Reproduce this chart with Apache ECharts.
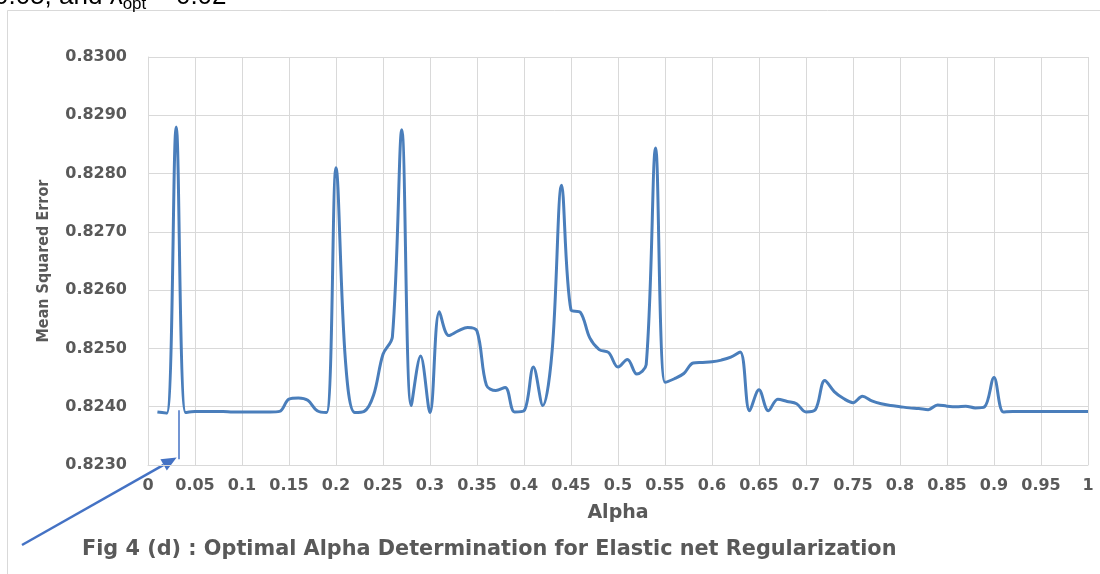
<!DOCTYPE html>
<html>
<head>
<meta charset="utf-8">
<script src="https://cdn.jsdelivr.net/npm/echarts@6.0.0/dist/echarts.min.js"></script>
<style>
  html, body { margin: 0; padding: 0; background: #ffffff; }
  #chart { width: 1100px; height: 574px; }
</style>
</head>
<body>
<div id="chart"></div>
<script>
// alpha values (x)
const alphas = [
  0.01, 0.02, 0.03, 0.04, 0.05, 0.06, 0.07, 0.08, 0.09, 0.10,
  0.11, 0.12, 0.13, 0.14, 0.15, 0.16, 0.17, 0.18, 0.19, 0.20,
  0.21, 0.22, 0.23, 0.24, 0.25, 0.26, 0.27, 0.28, 0.29, 0.30,
  0.31, 0.32, 0.33, 0.34, 0.35, 0.36, 0.37, 0.38, 0.39, 0.40,
  0.41, 0.42, 0.43, 0.44, 0.45, 0.46, 0.47, 0.48, 0.49, 0.50,
  0.51, 0.52, 0.53, 0.54, 0.55, 0.56, 0.57, 0.58, 0.59, 0.60,
  0.61, 0.62, 0.63, 0.64, 0.65, 0.66, 0.67, 0.68, 0.69, 0.70,
  0.71, 0.72, 0.73, 0.74, 0.75, 0.76, 0.77, 0.78, 0.79, 0.80,
  0.81, 0.82, 0.83, 0.84, 0.85, 0.86, 0.87, 0.88, 0.89, 0.90,
  0.91, 0.92, 0.93, 0.94, 0.95, 0.96, 0.97, 0.98, 0.99, 1.00
];

// mean squared error (y)
const mse = [
  0.82391, 0.82389, 0.82880, 0.82390, 0.82392, 0.82392, 0.82392, 0.82392, 0.82391, 0.82391,
  0.82391, 0.82391, 0.82391, 0.82392, 0.82413, 0.82415, 0.82411, 0.82393, 0.82390, 0.82810,
  0.82480, 0.82390, 0.82392, 0.82420, 0.82490, 0.82520, 0.82875, 0.82402, 0.82487, 0.82390,
  0.82563, 0.82522, 0.82530, 0.82536, 0.82530, 0.82437, 0.82428, 0.82433, 0.82391, 0.82393,
  0.82468, 0.82402, 0.82497, 0.82780, 0.82566, 0.82562, 0.82518, 0.82498, 0.82493, 0.82468,
  0.82481, 0.82456, 0.82472, 0.82844, 0.82442, 0.82448, 0.82457, 0.82475, 0.82476, 0.82477,
  0.82480, 0.82485, 0.82494, 0.82393, 0.82429, 0.82393, 0.82413, 0.82409, 0.82405, 0.82391,
  0.82395, 0.82445, 0.82426, 0.82414, 0.82407, 0.82418, 0.82410, 0.82405, 0.82402, 0.82400,
  0.82398, 0.82397, 0.82395, 0.82403, 0.82401, 0.82400, 0.82401, 0.82398, 0.82400, 0.82450,
  0.82391, 0.82392, 0.82392, 0.82392, 0.82392, 0.82392, 0.82392, 0.82392, 0.82392, 0.82392
];

// axis ticks
const xTicks = { min: 0, max: 1, step: 0.05 };
const yTicks = { min: 0.823, max: 0.830, step: 0.001 };

// optimal alpha marker
const optAlpha = [0.0322];
const optRange = [0.82310, 0.82394];

const grey = "#595959";
const gridGrey = "#d9d9d9";
const blue = "#4a7ebb";

const chart = echarts.init(document.getElementById("chart"), null, { renderer: "canvas" });

const option = {
  backgroundColor: "#ffffff",
  animation: false,
  grid: { left: 148, right: 12, top: 57, bottom: 109 },
  xAxis: {
    type: "value",
    min: xTicks.min,
    max: xTicks.max,
    interval: xTicks.step,
    name: "Alpha",
    nameLocation: "middle",
    nameGap: 39,
    nameTextStyle: { color: grey, fontSize: 19, fontWeight: "bold", fontFamily: "DejaVu Sans" },
    axisLine: { show: true, lineStyle: { color: gridGrey } },
    axisTick: { show: false },
    splitLine: { show: true, lineStyle: { color: gridGrey, width: 1 } },
    axisLabel: {
      color: grey,
      fontSize: 16,
      fontWeight: "bold",
      fontFamily: "DejaVu Sans",
      margin: 13,
      formatter: (v) => String(parseFloat(v.toFixed(2)))
    }
  },
  yAxis: {
    type: "value",
    min: yTicks.min,
    max: yTicks.max,
    interval: yTicks.step,
    name: "Mean Squared Error",
    nameLocation: "middle",
    nameGap: 96,
    nameTextStyle: { color: grey, fontSize: 16, fontWeight: "bold", fontFamily: "'DejaVu Sans Condensed', 'Liberation Sans', sans-serif" },
    axisLine: { show: true, lineStyle: { color: gridGrey } },
    axisTick: { show: false },
    splitLine: { show: true, lineStyle: { color: gridGrey, width: 1 } },
    axisLabel: {
      color: grey,
      fontSize: 16,
      fontWeight: "bold",
      fontFamily: "DejaVu Sans",
      margin: 21,
      formatter: (v) => v.toFixed(4)
    }
  },
  series: [
    {
      type: "line",
      data: alphas.map((a, i) => [a, mse[i]]),
      smooth: 0.35,
      showSymbol: false,
      lineStyle: { color: blue, width: 3 },
      itemStyle: { color: blue },
      markLine: {
        silent: true,
        symbol: ["none", "none"],
        label: { show: false },
        lineStyle: { color: "#4472c4", width: 1.5, type: "solid" },
        data: [[{ coord: [optAlpha[0], optRange[0]] }, { coord: [optAlpha[0], optRange[1]] }]]
      }
    }
  ],
  graphic: []
};

chart.setOption(option);

// arrow pointing at the optimal alpha (annotation)
const tip = chart.convertToPixel({ gridIndex: 0 }, [0.0305, 0.82313]);
const start = [22, 545];
const dx = tip[0] - start[0], dy = tip[1] - start[1];
const len = Math.sqrt(dx * dx + dy * dy);
const ux = dx / len, uy = dy / len;
const headLen = 15, headW = 6.5;
const bx = tip[0] - ux * headLen, by = tip[1] - uy * headLen;

chart.setOption({
  graphic: [
    {
      type: "rect",
      shape: { x: 7.5, y: 10.5, width: 1300, height: 800 },
      style: { fill: null, stroke: gridGrey, lineWidth: 1 },
      silent: true,
      z: -10
    },
    {
      type: "text",
      left: -6,
      top: -16,
      style: {
        text: "{a|0.05, and λ}{s|opt}{a| = 0.02}",
        rich: {
          a: { fontSize: 26, fontFamily: "Liberation Sans", fill: "#000000" },
          s: { fontSize: 17, fontFamily: "Liberation Sans", fill: "#000000", verticalAlign: "bottom", padding: [14, 0, 0, 0] }
        }
      }
    },
    {
      type: "line",
      shape: { x1: start[0], y1: start[1], x2: bx, y2: by },
      style: { stroke: "#4472c4", lineWidth: 2.5 }
    },
    {
      type: "polygon",
      shape: {
        points: [
          [tip[0], tip[1]],
          [bx - uy * headW, by + ux * headW],
          [bx + uy * headW, by - ux * headW]
        ]
      },
      style: { fill: "#4472c4" }
    },
    {
      type: "text",
      x: 82,
      top: 539,
      style: {
        text: "Fig 4 (d) : Optimal Alpha Determination for Elastic net Regularization",
        fill: grey,
        fontSize: 20.8,
        fontWeight: "bold",
        fontFamily: "DejaVu Sans"
      }
    }
  ]
});
</script>
</body>
</html>
